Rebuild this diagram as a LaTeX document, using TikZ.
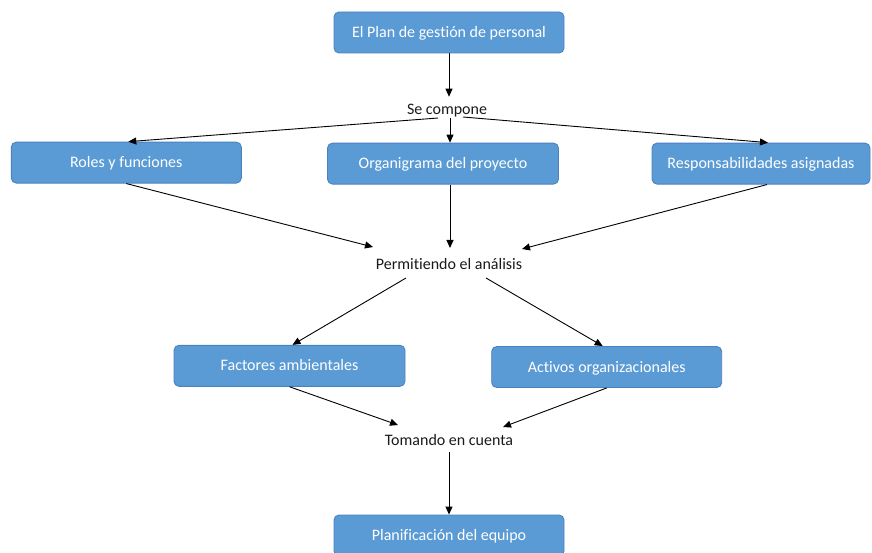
\documentclass[tikz,border=0pt]{standalone}
\usepackage{fontspec}
\setmainfont[Ligatures=NoCommon]{Carlito}
\usetikzlibrary{arrows.meta}
\definecolor{boxblue}{HTML}{5B9BD5}
\definecolor{boxedge}{HTML}{4A82BE}
\definecolor{labeltext}{HTML}{1A1A1A}
\tikzset{
  box/.style={rectangle, rounded corners=5pt, fill=boxblue, draw=boxedge,
    line width=0.9pt, text=white, minimum height=41pt, inner sep=0pt,
    text height=10.1pt, text depth=0pt,
    font=\fontsize{16}{19}\selectfont},
  linklabel/.style={inner sep=0pt, text=labeltext, text height=10.1pt, text depth=0pt,
    font=\fontsize{16}{19}\selectfont},
  link/.style={draw=black, line width=0.9pt, -{Triangle[length=8pt,width=7pt]}}
}
\begin{document}
\begin{tikzpicture}[x=1pt,y=-1pt]
  \useasboundingbox (0,0) rectangle (872,553);
  \begin{scope}
    \clip (0,0) rectangle (872,553);

    % boxes
    \node[box, minimum width=230pt] (plan) at (449,32.5) {El Plan de gestión de personal};
    \node[box, minimum width=230pt] (roles) at (126.3,162.6) {Roles y funciones};
    \node[box, minimum width=231pt] (org) at (443,163.6) {Organigrama del proyecto};
    \node[box, minimum width=218pt] (resp) at (761,163.6) {Responsabilidades asignadas};
    \node[box, minimum width=231pt] (fact) at (289.5,365.8) {Factores ambientales};
    \node[box, minimum width=230pt] (activ) at (606.7,367) {Activos organizacionales};
    \node[box, minimum width=230pt] (planif) at (449,535.5) {Planificación del equipo};

    % connecting phrases
    \node[linklabel] (comp) at (447,109) {Se compone};
    \node[linklabel] (perm) at (449,264.7) {Permitiendo el análisis};
    \node[linklabel] (toma) at (449,440.5) {Tomando en cuenta};

    % connectors
    \draw[link] (plan.south) -- ([shift={(2,-12.3)}]comp.center);
    \draw[link] ([shift={(-9,9)}]comp.center) -- ([xshift=2]roles.north);
    \draw[link] ([shift={(3,9)}]comp.center) -- ([xshift=7]org.north);
    \draw[link] ([shift={(16,8)}]comp.center) -- ([xshift=7]resp.north);

    \draw[link] (roles.south) -- ([shift={(-76,-17.7)}]perm.center);
    \draw[link] ([xshift=7]org.south) -- ([shift={(1,-16.7)}]perm.center);
    \draw[link] ([xshift=6]resp.south) -- ([shift={(73,-15.7)}]perm.center);

    \draw[link] ([shift={(-43,13.3)}]perm.center) -- ([xshift=3]fact.north);
    \draw[link] ([shift={(37,13.3)}]perm.center) -- ([xshift=-4]activ.north);

    \draw[link] (fact.south) -- ([shift={(-51,-15.5)}]toma.center);
    \draw[link] (activ.south) -- ([shift={(54,-13.5)}]toma.center);
    \draw[link] ([shift={(0,11.5)}]toma.center) -- (planif.north);
  \end{scope}
\end{tikzpicture}
\end{document}
